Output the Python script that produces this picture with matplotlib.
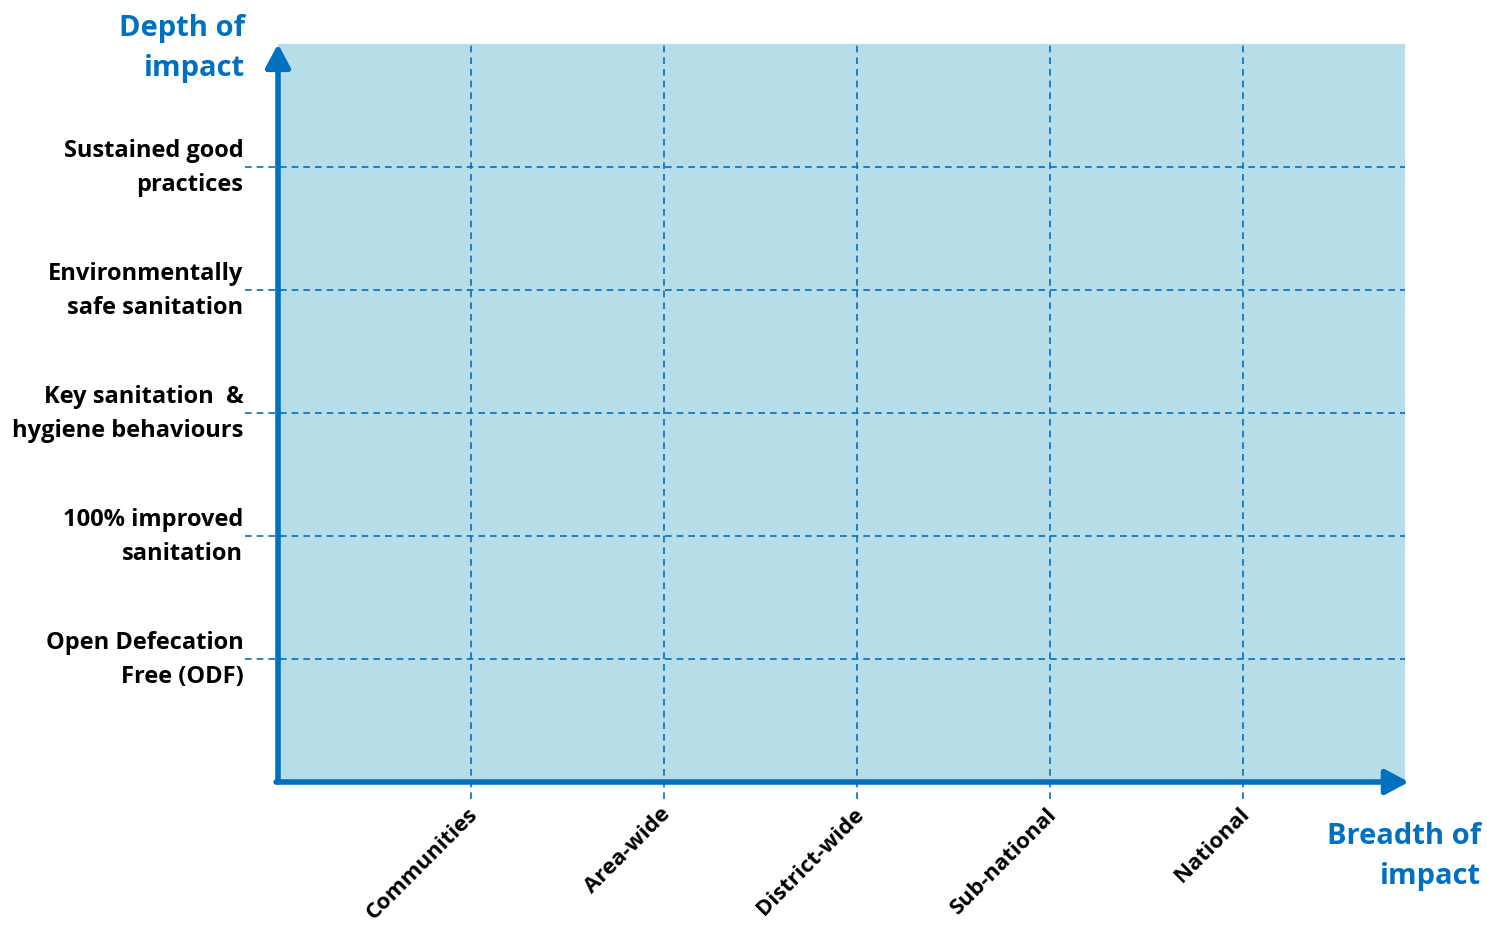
import matplotlib.pyplot as plt

# breadth (x) and depth (y) levels
breadth_labels = ["Communities", "Area-wide", "District-wide", "Sub-national", "National"]
depth_labels = [
    "Open Defecation\nFree (ODF)",
    "100% improved\nsanitation",
    "Key sanitation  &\nhygiene behaviours",
    "Environmentally\nsafe sanitation",
    "Sustained good\npractices",
]
breadth_pos = [1, 2, 3, 4, 5]
depth_pos = [1, 2, 3, 4, 5]

blue = "#0070C0"
bg = "#B7DDE8"

plt.rcParams['font.family'] = ['Open Sans', 'DejaVu Sans']

fig = plt.figure(figsize=(14.87, 9.28), dpi=100)
ax = fig.add_axes([278 / 1487, 1 - 783 / 928, (1405 - 278) / 1487, (783 - 45) / 928])
ax.set_xlim(0, 5.84)
ax.set_ylim(0, 6)
ax.set_facecolor(bg)
for s in ax.spines.values():
    s.set_visible(False)
ax.set_xticks([])
ax.set_yticks([])

dash = (0, (4, 3))
for x in breadth_pos:
    ax.plot([x, x], [-0.14, 6], color=blue, lw=1.2, ls=dash, clip_on=False)
for y in depth_pos:
    ax.plot([-0.17, 5.84], [y, y], color=blue, lw=1.2, ls=dash, clip_on=False)

# axis arrows
head = "-|>,head_length=1.4,head_width=0.75"
ax.annotate("", xy=(0, 6.0), xytext=(0, 0), annotation_clip=False,
            arrowprops=dict(arrowstyle=head, color=blue, lw=4, shrinkA=0, shrinkB=0))
ax.annotate("", xy=(5.86, 0), xytext=(-0.01, 0), annotation_clip=False,
            arrowprops=dict(arrowstyle=head, color=blue, lw=4, shrinkA=0, shrinkB=0))

for y, lab in zip(depth_pos, depth_labels):
    ax.text(-0.18, y, lab, ha="right", va="center", fontsize=17, fontweight="bold",
            color="black", linespacing=1.55)

for x, lab in zip(breadth_pos, breadth_labels):
    ax.text(x - 0.02, -0.17, lab, ha="right", va="top", rotation=45, rotation_mode="anchor",
            fontsize=16, fontweight="bold", color="black")

fig.text(245 / 1487, 1 - 14 / 928, "Depth of\nimpact", ha="right", va="top", fontsize=21,
         fontweight="bold", color=blue, linespacing=1.5)
fig.text(1481 / 1487, 1 - 822 / 928, "Breadth of\nimpact", ha="right", va="top", fontsize=21,
         fontweight="bold", color=blue, linespacing=1.5)

fig.savefig("out.png", dpi=100)
